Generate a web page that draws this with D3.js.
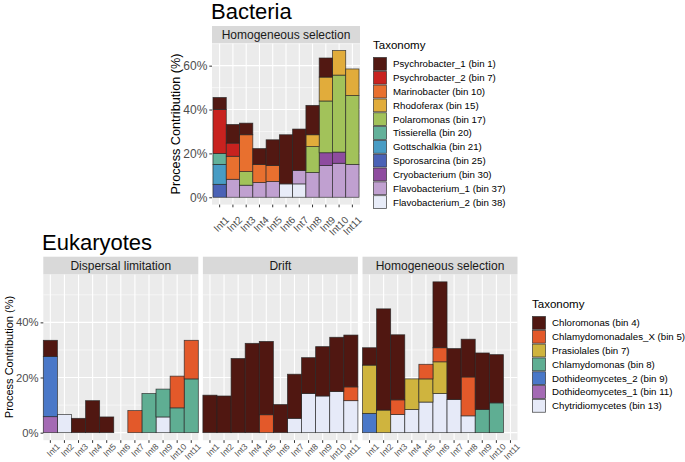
<!DOCTYPE html>
<html><head><meta charset="utf-8">
<script src="https://cdn.jsdelivr.net/npm/d3@7"></script>
<style>body{margin:0;background:#fff}text{font-family:"Liberation Sans",Arial,sans-serif}</style>
</head><body>
<svg id="c" width="685" height="462"></svg>
<script>
const intervals = ["Int1","Int2","Int3","Int4","Int5","Int6","Int7","Int8","Int9","Int10","Int11"];

// Bacteria (legend order)
const bacTaxa = ["Psychrobacter_1 (bin 1)","Psychrobacter_2 (bin 7)","Marinobacter (bin 10)","Rhodoferax (bin 15)","Polaromonas (bin 17)","Tissierella (bin 20)","Gottschalkia (bin 21)","Sporosarcina (bin 25)","Cryobacterium (bin 30)","Flavobacterium_1 (bin 37)","Flavobacterium_2 (bin 38)"];
const bacColors = ["#521812","#C8221F","#E8702F","#E1AC3B","#A2C25A","#63B19A","#489CC4","#4A62B6","#8E4C9F","#C0A0D0","#E8ECF8"];
const psychrobacter1 = [5.5, 8.5, 5.3, 7.2, 11.7, 22.4, 18.9, 13.4, 8.7, 0, 0];
const psychrobacter2 = [20.0, 6.0, 0, 0, 0, 0, 0, 0, 0, 0, 0];
const marinobacter   = [0, 10.5, 16.8, 8.3, 7.3, 0, 0, 0, 0, 0, 0];
const rhodoferax     = [0, 0, 0, 0, 0, 0, 0, 5.4, 10.9, 11.2, 12.1];
const polaromonas    = [0, 0, 6.2, 0, 0, 0, 0, 11.8, 23.6, 35.1, 31.4];
const tissierella    = [5.0, 0, 0, 0, 0, 0, 0, 0, 0, 0, 0];
const gottschalkia   = [9.1, 0, 0, 0, 0, 0, 0, 0, 0, 0, 0];
const sporosarcina   = [5.9, 0, 0, 0, 0, 0, 0, 0, 0, 0, 0];
const cryobacterium  = [0, 0, 0, 0, 0, 0, 0, 0, 5.8, 5.1, 0];
const flavobacterium1= [0, 8.2, 5.5, 6.7, 7.2, 0, 6.1, 11.3, 14.5, 15.5, 15.0];
const flavobacterium2= [0, 0, 0, 0, 0, 6.1, 6.1, 0, 0, 0, 0];
const bacSeries = [psychrobacter1,psychrobacter2,marinobacter,rhodoferax,polaromonas,tissierella,gottschalkia,sporosarcina,cryobacterium,flavobacterium1,flavobacterium2];

// Eukaryotes (legend order)
const eukTaxa = ["Chloromonas (bin 4)","Chlamydomonadales_X (bin 5)","Prasiolales (bin 7)","Chlamydomonas (bin 8)","Dothideomycetes_2 (bin 9)","Dothideomycetes_1 (bin 11)","Chytridiomycetes (bin 13)"];
const eukColors = ["#501711","#E3592A","#CFB43E","#5FAE93","#4A78C8","#A46AB4","#E6EAF8"];
const eukProcesses = ["Dispersal limitation","Drift","Homogeneous selection"];
// Dispersal limitation
const dl_chloromonas   = [5.9, 0, 5.2, 11.6, 5.7, 0, 0, 0, 0, 0, 0];
const dl_chlamydX      = [0, 0, 0, 0, 0, 0, 8.0, 0, 0, 11.5, 14.0];
const dl_prasiolales   = [0, 0, 0, 0, 0, 0, 0, 0, 0, 0, 0];
const dl_chlamydomonas = [0, 0, 0, 0, 0, 0, 0, 14.2, 10.1, 9.0, 19.5];
const dl_dothideo2     = [21.8, 0, 0, 0, 0, 0, 0, 0, 0, 0, 0];
const dl_dothideo1     = [5.8, 0, 0, 0, 0, 0, 0, 0, 0, 0, 0];
const dl_chytrid       = [0, 6.6, 0, 0, 0, 0, 0, 0, 5.7, 0, 0];
// Drift
const dr_chloromonas   = [13.6, 13.3, 26.9, 32.4, 26.6, 10.2, 16.0, 13.0, 17.9, 19.7, 18.8];
const dr_chlamydX      = [0, 0, 0, 0, 6.5, 0, 0, 0, 0, 0, 5.0];
const dr_prasiolales   = [0, 0, 0, 0, 0, 0, 0, 0, 0, 0, 0];
const dr_chlamydomonas = [0, 0, 0, 0, 0, 0, 0, 0, 0, 0, 0];
const dr_dothideo2     = [0, 0, 0, 0, 0, 0, 0, 0, 0, 0, 0];
const dr_dothideo1     = [0, 0, 0, 0, 0, 0, 0, 0, 0, 0, 0];
const dr_chytrid       = [0, 0, 0, 0, 0, 0, 5.2, 14.2, 13.3, 14.9, 11.6];
// Homogeneous selection
const hs_chloromonas   = [6.3, 36.7, 23.6, 0, 0, 23.9, 18.5, 13.7, 20.5, 17.5, 0];
const hs_chlamydX      = [0, 0, 5.3, 0, 5.3, 5.1, 0, 14.1, 0, 0, 0];
const hs_prasiolales   = [17.5, 8.2, 0, 11.1, 8.4, 11.5, 0, 0, 0, 0, 0];
const hs_chlamydomonas = [0, 0, 0, 0, 0, 0, 0, 0, 8.4, 10.8, 0];
const hs_dothideo2     = [7.0, 0, 0, 0, 0, 0, 0, 0, 0, 0, 0];
const hs_dothideo1     = [0, 0, 0, 0, 0, 0, 0, 0, 0, 0, 0];
const hs_chytrid       = [0, 0, 6.6, 8.4, 11.1, 14.2, 12.0, 6.1, 0, 0, 0];
const eukSeries = [
  [dl_chloromonas, dl_chlamydX, dl_prasiolales, dl_chlamydomonas, dl_dothideo2, dl_dothideo1, dl_chytrid],
  [dr_chloromonas, dr_chlamydX, dr_prasiolales, dr_chlamydomonas, dr_dothideo2, dr_dothideo1, dr_chytrid],
  [hs_chloromonas, hs_chlamydX, hs_prasiolales, hs_chlamydomonas, hs_dothideo2, hs_dothideo1, hs_chytrid]
];
const bacYTicks = [0, 20, 40, 60];
const eukYTicks = [0, 20, 40];

const svg = d3.select("#c");
const fmt = d => d + "%";
const FF = '"Liberation Sans",Arial,sans-serif';

function rows(series, taxa) {
  return intervals.map((iv, i) => {
    const r = {iv};
    taxa.forEach((t, k) => r[t] = series[k][i]);
    return r;
  });
}

function panel(g, o) {
  const {x0, x1, yTop, yBot, stripTitle, data, taxa, colors, yTicks, showY, maxV} = o;
  const stripH = o.stripH;
  const pTop = yTop + stripH;
  const x = d3.scaleBand().domain(intervals).range([o.bx0 ?? x0, o.bx1 ?? x1]).padding(0);
  const ymax = maxV * 1.05, ymin = -maxV * 0.05;
  const y = d3.scaleLinear().domain([ymin, ymax]).range([yBot, pTop]);
  g.append("rect").attr("x", x0).attr("y", pTop).attr("width", x1 - x0).attr("height", yBot - pTop).attr("fill", "#EBEBEB");
  const minor = d3.range(10, ymax, 20);
  g.selectAll(null).data(minor).join("line").attr("x1", x0).attr("x2", x1)
    .attr("y1", d => y(d)).attr("y2", d => y(d)).attr("stroke", "#fff").attr("stroke-width", 0.55);
  g.selectAll(null).data(yTicks).join("line").attr("x1", x0).attr("x2", x1)
    .attr("y1", d => y(d)).attr("y2", d => y(d)).attr("stroke", "#fff").attr("stroke-width", 1.1);
  g.selectAll(null).data(intervals).join("line").attr("y1", pTop).attr("y2", yBot)
    .attr("x1", d => x(d) + x.bandwidth() / 2).attr("x2", d => x(d) + x.bandwidth() / 2)
    .attr("stroke", "#fff").attr("stroke-width", 1.1);
  g.append("rect").attr("x", x0).attr("y", yTop).attr("width", x1 - x0).attr("height", stripH).attr("fill", "#D9D9D9");
  g.append("text").attr("x", (x0 + x1) / 2).attr("y", yTop + stripH / 2 + 4.3).attr("text-anchor", "middle")
    .attr("font-size", 12).attr("fill", "#1A1A1A").text(stripTitle);
  const order = taxa.slice().reverse();
  const stack = d3.stack().keys(order)(data);
  stack.forEach((layer, li) => {
    const color = colors[taxa.indexOf(order[li])];
    g.selectAll(null).data(layer.filter(d => d[1] - d[0] > 0)).join("rect")
      .attr("x", d => x(d.data.iv)).attr("width", x.bandwidth())
      .attr("y", d => y(d[1])).attr("height", d => y(d[0]) - y(d[1]))
      .attr("fill", color).attr("stroke", "#262626").attr("stroke-opacity", 0.85).attr("stroke-width", 0.75);
  });
  const xa = g.append("g").attr("transform", `translate(0,${yBot})`)
    .call(d3.axisBottom(x).tickSize(2.7).tickPadding(0));
  xa.select(".domain").remove();
  xa.selectAll(".tick line").attr("stroke", "#333");
  xa.selectAll(".tick text").attr("font-size", o.xFont).attr("fill", "#4D4D4D")
    .attr("text-anchor", "end").attr("y", 0).attr("dy", 0)
    .attr("transform", `translate(${o.xdx},${o.xdy}) rotate(-45)`)
    .style("font-family", FF);
  if (showY) {
    const ya = g.append("g").attr("transform", `translate(${x0},0)`)
      .call(d3.axisLeft(y).tickValues(yTicks).tickFormat(fmt).tickSize(2.7).tickPadding(2));
    ya.select(".domain").remove();
    ya.selectAll(".tick line").attr("stroke", "#333");
    ya.selectAll(".tick text").attr("font-size", o.yFont).attr("fill", "#4D4D4D")
      .style("font-family", FF);
  }
}

function legend(g, lx, ly, taxa, colors) {
  g.append("text").attr("x", lx).attr("y", ly).attr("font-size", 11.5).attr("fill", "#000").text("Taxonomy");
  const kh = 13.82;
  const ky = ly + 8;
  taxa.forEach((t, i) => {
    g.append("rect").attr("x", lx + 0.5).attr("y", ky + i * kh + 0.5).attr("width", 13).attr("height", kh - 1)
      .attr("fill", colors[i]).attr("stroke", "#262626").attr("stroke-opacity", 0.85).attr("stroke-width", 0.75);
    g.append("text").attr("x", lx + 20).attr("y", ky + i * kh + kh / 2 + 3.4).attr("font-size", 9.7)
      .attr("fill", "#000").text(t);
  });
}

// Bacteria
const bacMax = d3.max(intervals.map((iv, i) => d3.sum(bacSeries, s => s[i])));
svg.append("text").attr("x", 211).attr("y", 19).attr("font-size", 22).attr("fill", "#000").text("Bacteria");
panel(svg.append("g"), {x0: 212, x1: 360, bx0: 213, bx1: 359, yTop: 26, stripH: 17.2, yBot: 204.6, stripTitle: "Homogeneous selection",
  data: rows(bacSeries, bacTaxa), taxa: bacTaxa, colors: bacColors, yTicks: bacYTicks, showY: true, maxV: bacMax,
  xFont: 10, yFont: 12, xdx: 10, xdy: 16});
svg.append("text").attr("transform", "translate(180,124) rotate(-90)").attr("text-anchor", "middle")
  .attr("font-size", 12.7).attr("fill", "#000").text("Process Contribution (%)");
legend(svg.append("g"), 373, 49, bacTaxa, bacColors);

// Eukaryotes
const eukMax = d3.max(eukSeries.map(ser => d3.max(intervals.map((iv, i) => d3.sum(ser, s => s[i])))));
svg.append("text").attr("x", 42).attr("y", 250).attr("font-size", 22).attr("fill", "#000").text("Eukaryotes");
const pw = 155, gap = 4.6, ex0 = 43.3;
eukProcesses.forEach((p, k) => {
  const x0 = ex0 + k * (pw + gap);
  panel(svg.append("g"), {x0, x1: x0 + pw, yTop: 256.7, stripH: 17.6, yBot: 440.2, stripTitle: p,
    data: rows(eukSeries[k], eukTaxa), taxa: eukTaxa, colors: eukColors, yTicks: eukYTicks, showY: k === 0, maxV: eukMax,
    xFont: 8.5, yFont: 11.3, xdx: 10, xdy: 7});
});
svg.append("text").attr("transform", "translate(13,357) rotate(-90)").attr("text-anchor", "middle")
  .attr("font-size", 11).attr("fill", "#000").text("Process Contribution (%)");
legend(svg.append("g"), 532, 308, eukTaxa, eukColors);
</script>
</body></html>
